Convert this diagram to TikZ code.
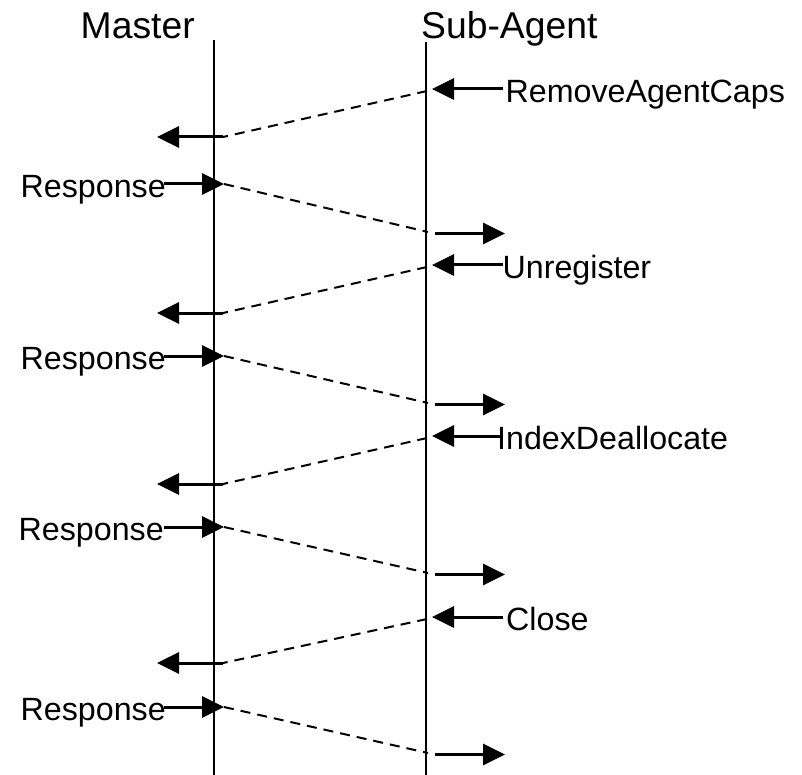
\documentclass[tikz,border=0pt]{standalone}
\usepackage{fontspec}
\setmainfont{Liberation Sans}
\usetikzlibrary{arrows.meta}
\begin{document}
\begin{tikzpicture}[x=1pt,y=-1pt,
  life/.style={line width=2pt},
  msg/.style={line width=3pt,-{Triangle[length=22pt,width=21pt]}},
  ret/.style={line width=2pt,dash pattern=on 10pt off 7pt},
  head/.style={inner sep=0pt,anchor=base west,font=\fontsize{37.3}{41}\selectfont},
  lab/.style={inner sep=0pt,anchor=base west,font=\fontsize{32.2}{36}\selectfont}]
\useasboundingbox (0,0) rectangle (802,775);
\node[head] (master) at (80.5,38.5) {Master};
\node[head] (sub) at (421,38.5) {Sub-Agent};
\coordinate (mtop) at (214,40);
\coordinate (mbot) at (214,775);
\coordinate (stop) at (426,42);
\coordinate (sbot) at (426,775);
\draw[life] (mtop) -- (mbot);
\draw[life] (stop) -- (sbot);
\foreach \i/\ya/\yb/\yc/\yd/\txt/\lx/\rx in {
  1/89/137/184/232/RemoveAgentCaps/505.5/20.5,
  2/265/313/356/403/Unregister/502.5/20.5,
  3/436/484/527/573/IndexDeallocate/497/18.5,
  4/617/663/707/753/Close/506/20.5}
{
  \node[lab] (req\i) at (\lx,\ya+13.5) {\txt};
  \coordinate (reqs\i) at (503,\ya);
  \coordinate (reqt\i) at (432,\ya);
  \coordinate (da\i) at (427,\ya+2);
  \coordinate (db\i) at (223,\yb);
  \coordinate (outl\i) at (157,\yb);
  \node[lab] (resp\i) at (\rx,\yc+13.5) {Response};
  \coordinate (resps\i) at (164,\yc);
  \coordinate (respt\i) at (224,\yc);
  \coordinate (dc\i) at (428,\yd);
  \coordinate (outrs\i) at (435,\yd+1.5);
  \coordinate (outrt\i) at (505,\yd+1.5);
  \draw[msg] (reqs\i) -- (reqt\i);
  \draw[ret] (da\i) -- (db\i);
  \draw[msg] (db\i) -- (outl\i);
  \draw[msg] (resps\i) -- (respt\i);
  \draw[ret] (respt\i) -- (dc\i);
  \draw[msg] (outrs\i) -- (outrt\i);
}
\end{tikzpicture}
\end{document}
